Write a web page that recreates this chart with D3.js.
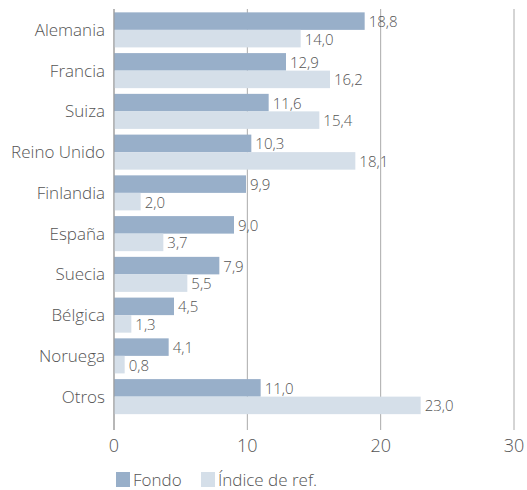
<!DOCTYPE html>
<html>
<head>
<meta charset="utf-8">
<script src="https://cdn.jsdelivr.net/npm/d3@7"></script>
<style>
  body { margin: 0; background: #fff; }
  text { font-family: "Open Sans", Lato, sans-serif; font-weight: 300; fill: #555; }
</style>
</head>
<body>
<div id="chart"></div>
<script>
const countries = ["Alemania", "Francia", "Suiza", "Reino Unido", "Finlandia", "España", "Suecia", "Bélgica", "Noruega", "Otros"];
const fondo = [18.8, 12.9, 11.6, 10.3, 9.9, 9.0, 7.9, 4.5, 4.1, 11.0];
const indice = [14.0, 16.2, 15.4, 18.1, 2.0, 3.7, 5.5, 1.3, 0.8, 23.0];
const seriesNames = ["Fondo", "Índice de ref."];
const xTicks = [0, 10, 20, 30];
const colors = ["#98afc9", "#d5dfe9"];

var width = 527, height = 490;
const svg = d3.select("#chart").append("svg").attr("width", width).attr("height", height);

const x = d3.scaleLinear().domain([0, 30]).range([114, 514]);
const y = d3.scaleBand().domain(countries).range([9.5, 417]).paddingInner(0.14).paddingOuter(0.07);
const ySub = d3.scaleBand().domain([0, 1]).range([0, y.bandwidth()]);

// grid lines
svg.selectAll(".grid").data(xTicks).enter().append("line")
  .attr("x1", d => x(d)).attr("x2", d => x(d))
  .attr("y1", 9).attr("y2", 430)
  .attr("stroke", "#aaa").attr("stroke-width", 1);

const rows = countries.map((c, i) => ({ c, vals: [fondo[i], indice[i]] }));
const g = svg.selectAll(".row").data(rows).enter().append("g")
  .attr("transform", d => `translate(0, ${y(d.c)})`);

g.selectAll("rect").data(d => d.vals).enter().append("rect")
  .attr("x", x(0))
  .attr("y", (d, j) => ySub(j))
  .attr("width", d => x(d) - x(0))
  .attr("height", ySub.bandwidth())
  .attr("fill", (d, j) => colors[j]);

g.selectAll(".val").data(d => d.vals).enter().append("text")
  .attr("x", d => x(d) + 4)
  .attr("y", (d, j) => ySub(j) + ySub.bandwidth() / 2 + 6)
  .style("font-size", "15px")
  .text(d => d.toFixed(1).replace(".", ","));

g.append("text")
  .attr("x", 105)
  .attr("y", y.bandwidth() / 2 + 6)
  .attr("text-anchor", "end")
  .style("font-size", "17px")
  .text(d => d.c);

// axis line at 0
svg.append("line").attr("x1", x(0)).attr("x2", x(0)).attr("y1", 9).attr("y2", 430)
  .attr("stroke", "#999");

svg.selectAll(".tick").data(xTicks).enter().append("text")
  .attr("x", d => x(d)).attr("y", 452)
  .attr("text-anchor", "middle")
  .style("font-size", "18px")
  .text(d => d);

// legend
const leg = svg.selectAll(".leg").data(seriesNames).enter().append("g")
  .attr("transform", (d, i) => `translate(${[116, 201][i]}, 472)`);
leg.append("rect").attr("width", 14).attr("height", 15).attr("fill", (d, i) => colors[i]);
leg.append("text").attr("x", 17).attr("y", 14).style("font-size", "17px").text(d => d);
</script>
</body>
</html>
